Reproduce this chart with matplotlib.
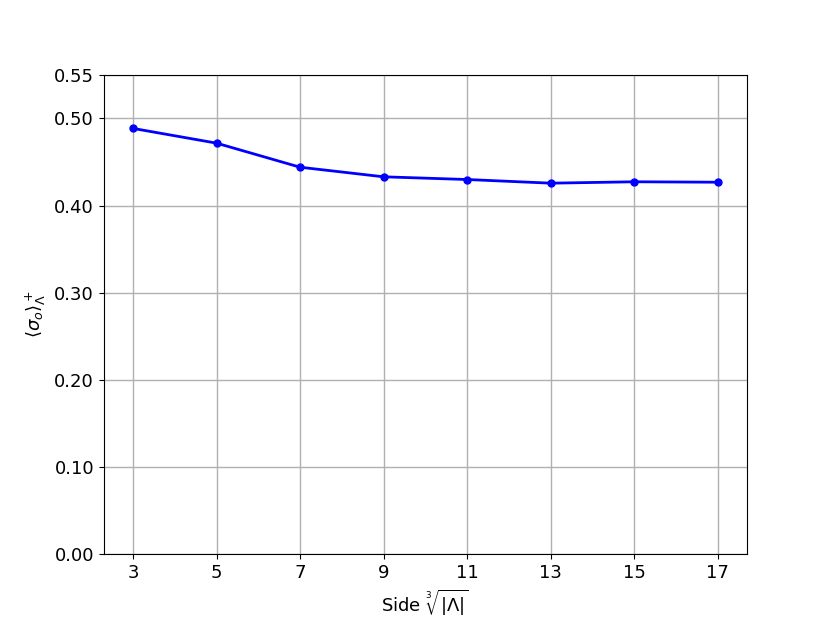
import matplotlib
matplotlib.use("Agg")
import matplotlib.pyplot as plt

sides = [3, 5, 7, 9, 11, 13, 15, 17]
sigma = [0.4885, 0.4716, 0.4440, 0.4330, 0.4299, 0.4257, 0.4273, 0.4268]
yticks = [0.0, 0.1, 0.2, 0.3, 0.4, 0.5, 0.55]

fig, ax = plt.subplots(figsize=(8.3, 6.23), dpi=100)
ax.plot(sides, sigma, color="blue", marker="o", markersize=5, linewidth=2)
ax.set_xticks(sides)
ax.set_yticks(yticks)
ax.set_yticklabels([f"{v:.2f}" for v in yticks])
ax.set_ylim(0, 0.55)
ax.tick_params(labelsize=13)
ax.grid(True, color="#b0b0b0", linewidth=1)
ax.set_xlabel(r"Side $\sqrt[3]{|\Lambda|}$", fontsize=13)
ax.set_ylabel(r"$\langle \sigma_o \rangle^+_\Lambda$", fontsize=13)
fig.savefig("out.png", dpi=100)
